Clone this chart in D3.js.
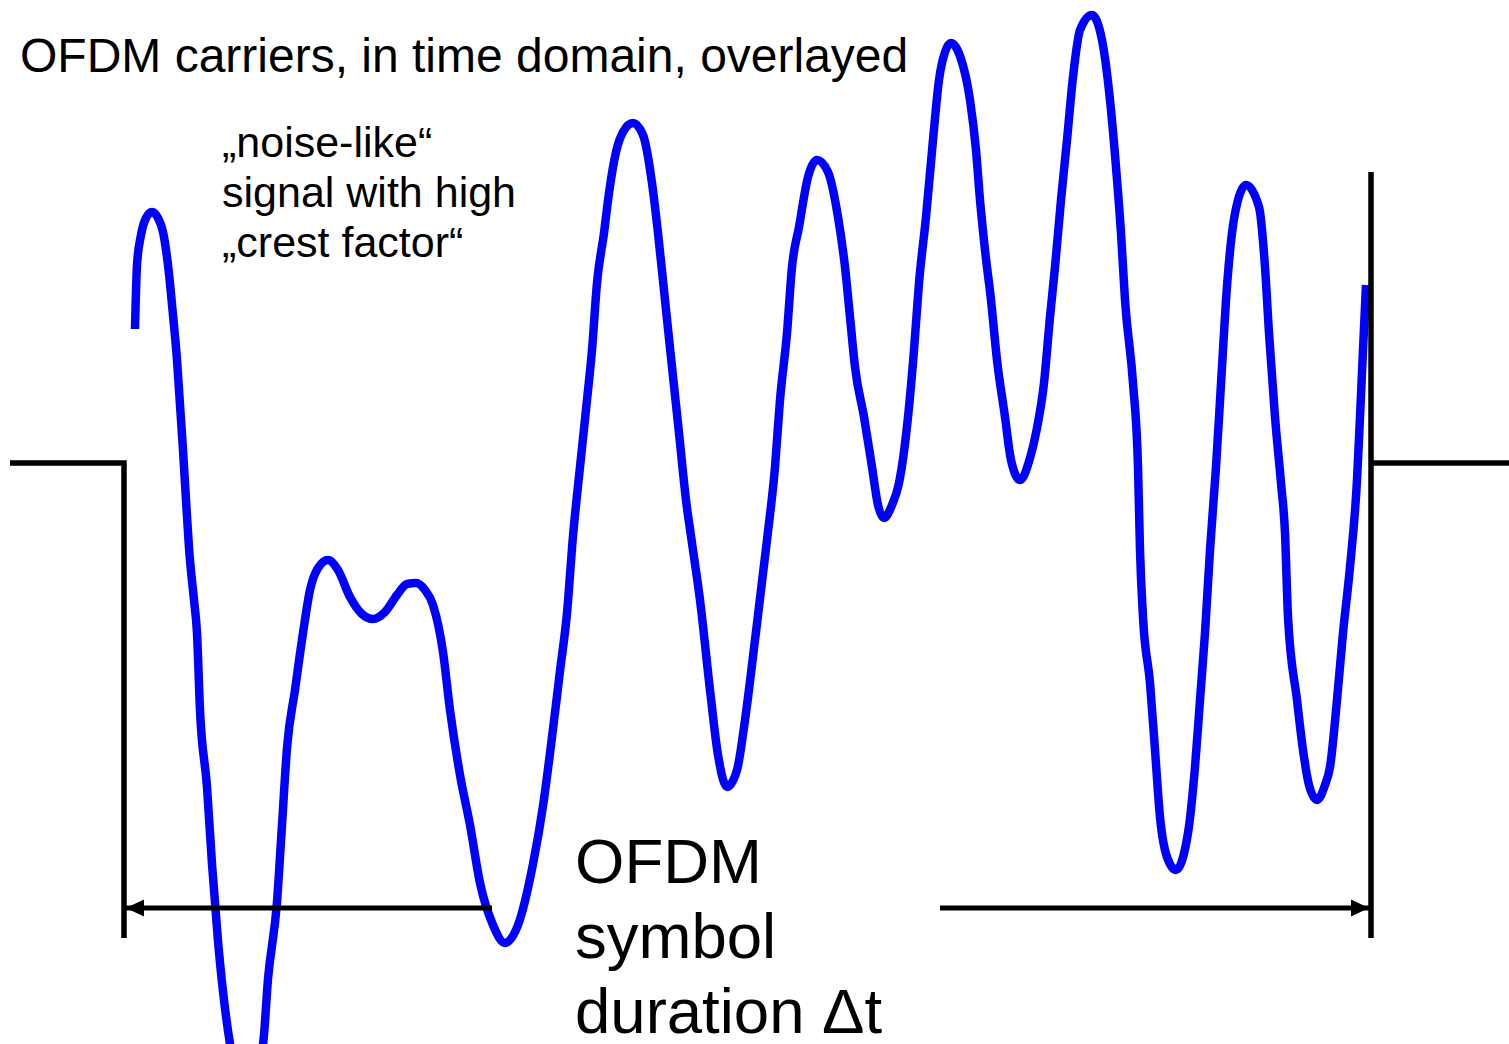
<!DOCTYPE html>
<html>
<head>
<meta charset="utf-8">
<script src="https://cdn.jsdelivr.net/npm/d3@7"></script>
<style>
  html, body { margin: 0; padding: 0; background: #fff; }
  svg { display: block; }
  text { font-family: "Liberation Sans", Arial, Helvetica, sans-serif; fill: #000; }
</style>
</head>
<body>
<div id="chart"></div>
<script>
// ---- Data (time in samples across the symbol, amplitude in arbitrary units) ----
const sampleTimes = [11,13,17,22,28,34,39,44,49,53,56,59,62,65,70,73,76,83,88,94,106,122,139,144,153,158,163,171,179,186,194,204,214,226,238,249,261,273,283,292,301,309,319,326,336,346,356,369,381,394,409,419,429,436,443,449,456,463,468,473,480,485,492,499,509,519,528,534,541,548,555,562,568,576,586,594,603,613,621,631,643,651,656,663,668,675,684,693,704,714,721,726,731,740,748,754,760,768,775,784,790,795,802,809,815,821,827,836,846,852,856,861,867,873,881,887,896,906,912,920,926,931,937,943,949,956,968,978,986,992,997,1001,1009,1014,1016,1019,1026,1031,1036,1043,1052,1064,1071,1076,1081,1086,1092,1098,1102,1108,1114,1122,1135,1141,1145,1151,1157,1161,1164,1173,1179,1185,1193,1201,1206,1213,1219,1226,1233,1236,1239,1242];
const amplitudes = [1.34,1.98,2.28,2.45,2.51,2.45,2.31,1.98,1.48,1.03,0.58,0.13,-0.37,-0.85,-1.37,-1.70,-2.47,-3.24,-4.01,-4.78,-5.81,-6.32,-5.81,-5.16,-4.39,-3.62,-2.85,-2.27,-1.70,-1.27,-1.05,-0.97,-1.07,-1.34,-1.51,-1.56,-1.49,-1.32,-1.21,-1.20,-1.27,-1.42,-1.89,-2.47,-3.12,-3.62,-4.20,-4.62,-4.80,-4.62,-4.01,-3.43,-2.66,-2.08,-1.50,-0.73,-0.04,0.63,1.13,1.80,2.30,2.70,3.11,3.31,3.40,3.28,2.80,2.30,1.63,0.96,0.30,-0.37,-0.80,-1.37,-2.27,-2.92,-3.24,-3.07,-2.57,-1.77,-0.77,-0.04,0.63,1.30,1.96,2.36,2.86,3.03,2.91,2.46,1.96,1.46,0.96,0.46,-0.04,-0.42,-0.55,-0.42,-0.20,0.46,1.13,1.80,2.46,3.23,3.83,4.11,4.20,4.07,3.63,3.13,2.63,2.13,1.63,1.03,0.46,0.03,-0.17,0.05,0.30,0.80,1.46,1.96,2.63,3.23,3.86,4.33,4.48,4.23,3.63,2.96,2.30,1.63,0.80,-0.04,-0.87,-1.54,-2.20,-2.87,-3.54,-3.94,-4.07,-3.70,-3.04,-2.37,-1.70,-0.87,-0.04,0.96,1.63,2.30,2.63,2.78,2.56,1.96,1.30,0.46,-0.20,-0.70,-1.54,-2.37,-2.87,-3.22,-3.37,-3.22,-3.04,-2.37,-1.70,-1.04,-0.17,0.46,1.13,1.78];

// symbol frame (same units)
const symbolStart = 0;
const symbolEnd = 1247;
const outsideLeft = -114;
const outsideRight = 1385;
const frameBottom = -4.75;
const frameRightTop = 2.91;
const arrowLevel = -4.45;
const arrowLeftEnd = 368;   // left arrow segment: symbolStart -> arrowLeftEnd
const arrowRightStart = 816; // right arrow segment: arrowRightStart -> symbolEnd

const titleText = "OFDM carriers, in time domain, overlayed";
const noteLines = ["\u201Enoise-like\u201C", "signal with high", "\u201Ecrest factor\u201C"];
const durationLines = ["OFDM", "symbol", "duration \u0394t"];

// ---- Drawing ----
const W = 1509, H = 1044;
const svg = d3.select("#chart").append("svg").attr("width", W).attr("height", H);

const x = d3.scaleLinear().domain([symbolStart, symbolEnd]).range([124, 1371]);
const y = d3.scaleLinear().domain([-4.5, 4.5]).range([913, 13]);

const defs = svg.append("defs");
defs.append("marker").attr("id", "ah").attr("viewBox", "0 0 18 18")
  .attr("refX", 18).attr("refY", 9).attr("markerWidth", 18).attr("markerHeight", 18)
  .attr("markerUnits", "userSpaceOnUse").attr("orient", "auto")
  .append("path").attr("d", "M0,0.5 L18,9 L0,17.5 Z").attr("fill", "#000");

// blue signal
const pts = sampleTimes.map((t, i) => [t, amplitudes[i]]);
const line = d3.line().x(d => x(d[0])).y(d => y(d[1])).curve(d3.curveMonotoneX);
svg.append("path").attr("d", line(pts)).attr("fill", "none")
  .attr("stroke", "#0000FF").attr("stroke-width", 8.5).attr("stroke-linejoin", "round");

// frame
const blk = svg.append("g").attr("stroke", "#000").attr("fill", "none").attr("stroke-width", 5.5);
blk.append("path").attr("d", d3.line()([[x(outsideLeft), y(0)], [x(symbolStart), y(0)], [x(symbolStart), y(frameBottom)]]))
  .attr("stroke-linejoin", "miter").attr("stroke-linecap", "butt");
blk.append("line").attr("x1", x(symbolEnd)).attr("x2", x(symbolEnd)).attr("y1", y(frameRightTop)).attr("y2", y(frameBottom));
blk.append("line").attr("x1", x(symbolEnd)).attr("x2", x(outsideRight)).attr("y1", y(0)).attr("y2", y(0));

// arrows
const ar = svg.append("g").attr("stroke", "#000").attr("stroke-width", 5);
ar.append("line").attr("x1", x(arrowLeftEnd)).attr("x2", x(symbolStart) + 2).attr("y1", y(arrowLevel)).attr("y2", y(arrowLevel))
  .attr("marker-end", "url(#ah)");
ar.append("line").attr("x1", x(arrowRightStart)).attr("x2", x(symbolEnd) - 2).attr("y1", y(arrowLevel)).attr("y2", y(arrowLevel))
  .attr("marker-end", "url(#ah)");

// texts
svg.append("text").attr("x", 20).attr("y", 72).attr("font-size", 48).text(titleText);
svg.append("g").selectAll("text").data(noteLines).join("text")
  .attr("x", 222).attr("y", (d, i) => 157 + i * 50).attr("font-size", 43).text(d => d);
svg.append("g").selectAll("text").data(durationLines).join("text")
  .attr("x", 575).attr("y", (d, i) => 883 + i * 75).attr("font-size", 63.5).text(d => d);
</script>
</body>
</html>
